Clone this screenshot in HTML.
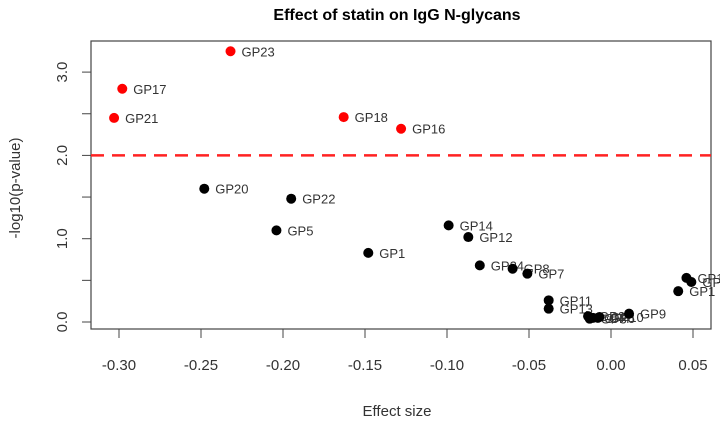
<!DOCTYPE html>
<html><head><meta charset="utf-8"><style>body{margin:0;background:#fff}svg{display:block;font-family:"Liberation Sans",sans-serif}</style></head>
<body>
<svg id="chart" width="720" height="422">
<text x="397" y="20" text-anchor="middle" font-weight="bold" font-size="16" fill="#000">Effect of statin on IgG N-glycans</text>
<text transform="translate(20,188) rotate(-90)" text-anchor="middle" font-size="15" fill="#333">-log10(p-value)</text>
<text x="397" y="416" text-anchor="middle" font-size="15" fill="#333">Effect size</text>
<rect x="91" y="41" width="620" height="288" fill="none" stroke="#444" stroke-width="1.2"/>
<g id="g"></g>
</svg>
<script>
const names=["GP23","GP17","GP21","GP18","GP16","GP20","GP22","GP5","GP1","GP14","GP12","GP24","GP8","GP7","GP11","GP13","GP2","GP3","GP4","GP6","GP10","GP9","GP15","GP19","GP1"];
const effects=[-0.232,-0.298,-0.303,-0.163,-0.128,-0.248,-0.195,-0.204,-0.148,-0.099,-0.087,-0.080,-0.060,-0.051,-0.038,-0.038,-0.014,-0.013,-0.011,-0.008,-0.007,0.011,0.046,0.049,0.041];
const logp=[3.25,2.80,2.45,2.46,2.32,1.60,1.48,1.10,0.83,1.16,1.02,0.68,0.64,0.58,0.26,0.16,0.07,0.04,0.05,0.05,0.06,0.10,0.53,0.48,0.37];
const xTicks=[-0.30,-0.25,-0.20,-0.15,-0.10,-0.05,0.00,0.05];
const xTickLabels=["-0.30","-0.25","-0.20","-0.15","-0.10","-0.05","0.00","0.05"];
const yTicks=[0,0.5,1,1.5,2,2.5,3];
const yTickLabels=["0.0","","1.0","","2.0","","3.0"];
const threshold=[2];
const X=v=>119+(v+0.3)*1640, Y=v=>322-83.3*v;
const ns="http://www.w3.org/2000/svg", g=document.getElementById('g');
function mk(t,a,txt){const e=document.createElementNS(ns,t);for(const k in a)e.setAttribute(k,a[k]);if(txt!==undefined)e.textContent=txt;g.appendChild(e);return e;}
xTicks.forEach((v,i)=>{
 const t=mk('line',{x1:X(v),x2:X(v),y1:329,y2:338,stroke:'#444'});
 
 
 const l=mk('text',{x:X(v),y:370,'text-anchor':'middle','font-size':15,fill:'#333'},xTickLabels[i]);
 
 
});
yTicks.forEach((v,i)=>{
 const t=mk('line',{x1:82,x2:91,y1:Y(v),y2:Y(v),stroke:'#444'});
 
 
 if(yTickLabels[i]){const l=mk('text',{transform:`translate(67,${Y(v)}) rotate(-90)`,'text-anchor':'middle','font-size':15,fill:'#333'},yTickLabels[i]);
 
 }
});
threshold.forEach(v=>{
 const l=mk('line',{x1:91,x2:711,y1:Y(v),y2:Y(v),stroke:'#f22','stroke-width':2.5,'stroke-dasharray':'13,8'});
 
 
});
names.forEach((n,i)=>{
 const red=logp[i]>threshold[0];
 const c=mk('circle',{cx:X(effects[i]),cy:Y(logp[i]),r:5,fill:red?'#f00':'#000'});
 
 
 const t=mk('text',{x:X(effects[i])+11,y:Y(logp[i])+5,'font-size':13,fill:'#333'},n);
 
 
});
</script>
</body></html>
